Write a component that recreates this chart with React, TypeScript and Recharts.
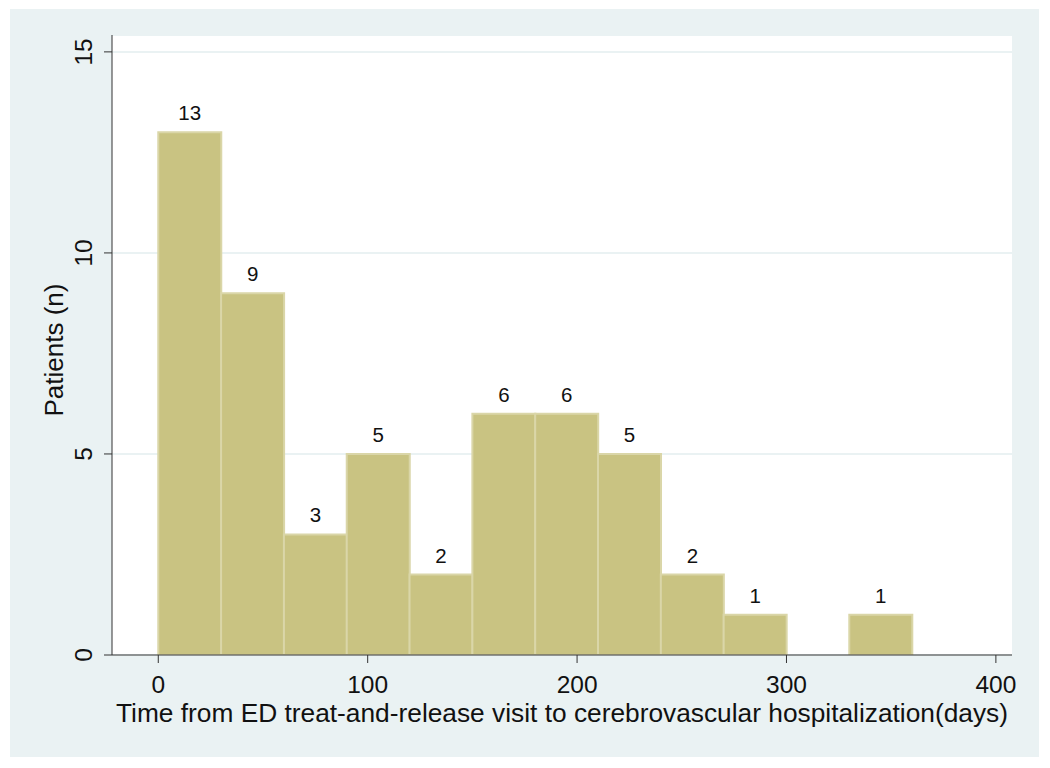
import React from 'react';
import { ComposedChart, Bar, XAxis, YAxis, CartesianGrid, LabelList } from 'recharts';

// histogram bins, 30 days wide
const binStarts = [0, 30, 60, 90, 120, 150, 180, 210, 240, 270, 300, 330];
const binWidth = 30;
const patients = [13, 9, 3, 5, 2, 6, 6, 5, 2, 1, 0, 1];

const xTicks = [0, 100, 200, 300, 400];
const yTicks = [0, 5, 10, 15];

const data = binStarts.map((start, i) => ({
  mid: start + binWidth / 2,
  n: patients[i],
}));

const FONT = 'Arial, "Liberation Sans", sans-serif';
const BG = '#EAF2F3';

const XTick = (props: any) => {
  const { x, y, payload } = props;
  return (
    <text x={x} y={y} dy={28} textAnchor="middle" fontSize={24.5} fontFamily={FONT} fill="#111">
      {payload.value}
    </text>
  );
};

const YTick = (props: any) => {
  const { x, y, payload } = props;
  const bx = x - 10;
  return (
    <text
      x={bx}
      y={y}
      textAnchor="middle"
      fontSize={24.5}
      fontFamily={FONT}
      fill="#111"
      transform={`rotate(-90, ${bx}, ${y})`}
    >
      {payload.value}
    </text>
  );
};

const BarLabel = (props: any) => {
  const { x, y, width, value } = props;
  if (!value) return null;
  return (
    <text x={x + width / 2} y={y - 12} textAnchor="middle" fontSize={20.5} fontFamily={FONT} fill="#111">
      {value}
    </text>
  );
};

export default function App() {
  return (
    <div style={{ position: 'absolute', left: 10, top: 9, width: 1029, height: 748, background: BG }}>
      <ComposedChart
        width={1029}
        height={748}
        data={data}
        margin={{ top: 26, right: 27, bottom: 42, left: 52 }}
        barCategoryGap={0}
        barGap={0}
      >
        <CartesianGrid fill="#ffffff" stroke={BG} strokeWidth={2} vertical={false} />
        <XAxis
          dataKey="mid"
          type="number"
          domain={[-22.1, 407.7]}
          ticks={xTicks}
          allowDataOverflow
          height={60}
          tickSize={8}
          tickMargin={2}
          stroke="#333"
          tick={<XTick />}
          label={(p: any) => {
            const vb = p.viewBox;
            return (
              <text
                x={vb.x + vb.width / 2}
                y={vb.y + 67}
                textAnchor="middle"
                fontSize={26.3}
                fontFamily={FONT}
                fill="#111"
              >
                Time from ED treat-and-release visit to cerebrovascular hospitalization(days)
              </text>
            );
          }}
        />
        <YAxis
          type="number"
          domain={[0, 15.42]}
          ticks={yTicks}
          allowDataOverflow
          width={50}
          tickSize={8}
          tickMargin={2}
          stroke="#333"
          tick={<YTick />}
          label={(p: any) => {
            const vb = p.viewBox;
            const lx = vb.x + 1;
            const ly = vb.y + vb.height / 2 + 5;
            return (
              <text
                x={lx}
                y={ly}
                textAnchor="middle"
                fontSize={26}
                fontFamily={FONT}
                fill="#111"
                transform={`rotate(-90, ${lx}, ${ly})`}
              >
                Patients (n)
              </text>
            );
          }}
        />
        <Bar dataKey="n" fill="#C9C382" stroke="#DAD6A8" strokeWidth={2} isAnimationActive={false}>
          <LabelList dataKey="n" content={<BarLabel />} />
        </Bar>
      </ComposedChart>
    </div>
  );
}
